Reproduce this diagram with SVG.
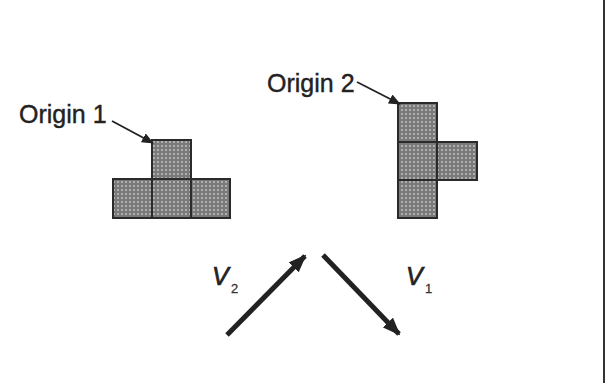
<svg xmlns="http://www.w3.org/2000/svg" width="606" height="383" viewBox="0 0 606 383">
<style>
.lbl{font-family:"Liberation Sans",Arial,sans-serif;font-size:25px;fill:#222;stroke:#222;stroke-width:0.4}
.v{font-family:"Liberation Sans",Arial,sans-serif;font-style:italic;font-size:25px;fill:#222;stroke:#222;stroke-width:0.7}
.sub{font-family:"Liberation Sans",Arial,sans-serif;font-size:13px;fill:#333;stroke:#333;stroke-width:0.3}
.sq{fill:url(#dots);stroke:#2a2a2a;stroke-width:2}
.thin{stroke:#222;stroke-width:1.8;fill:none}
.thick{stroke:#222;stroke-width:5;fill:none}
</style>
<defs>
<pattern id="dots" width="4" height="4" patternUnits="userSpaceOnUse">
<rect width="4" height="4" fill="#7a7a7a"/>
<circle cx="2" cy="2" r="0.9" fill="#c8c8c8"/>
</pattern>
<marker id="ah" markerWidth="12" markerHeight="10" refX="11" refY="5" orient="auto" markerUnits="userSpaceOnUse">
<path d="M0,0 L12,5 L0,10 Z" fill="#222"/>
</marker>
<marker id="bh" markerWidth="18" markerHeight="14" refX="16" refY="7" orient="auto" markerUnits="userSpaceOnUse">
<path d="M0,0 L18,7 L0,14 Z" fill="#222"/>
</marker>
</defs>
<rect width="606" height="383" fill="#fff"/>
<line x1="604" y1="0" x2="604" y2="383" stroke="#333" stroke-width="2"/>
<g id="shape1">
<rect class="sq" x="152" y="140" width="39" height="39"/>
<rect class="sq" x="113" y="179" width="39" height="39"/>
<rect class="sq" x="152" y="179" width="39" height="39"/>
<rect class="sq" x="191" y="179" width="39" height="39"/>
</g>
<g id="shape2">
<rect class="sq" x="398" y="103" width="39" height="39"/>
<rect class="sq" x="398" y="142" width="39" height="38"/>
<rect class="sq" x="437" y="142" width="40" height="38"/>
<rect class="sq" x="398" y="180" width="39" height="38"/>
</g>
<g id="origin1">
<text class="lbl" x="19" y="123">Origin 1</text>
</g>
<g id="origin2">
<text class="lbl" x="267" y="92">Origin 2</text>
</g>
<g id="v2">
<text class="v" x="212" y="285">V</text>
<text class="sub" x="231" y="293">2</text>
</g>
<g id="v1">
<text class="v" x="406" y="285">V</text>
<text class="sub" x="425" y="293">1</text>
</g>
<g id="connectors">
<line class="thin" x1="112" y1="121" x2="153" y2="143" marker-end="url(#ah)"/>
<line class="thin" x1="357" y1="82" x2="400" y2="104" marker-end="url(#ah)"/>
<line class="thick" x1="227" y1="335" x2="305" y2="256" marker-end="url(#bh)"/>
<line class="thick" x1="323" y1="255" x2="399" y2="334" marker-end="url(#bh)"/>
</g>
</svg>
